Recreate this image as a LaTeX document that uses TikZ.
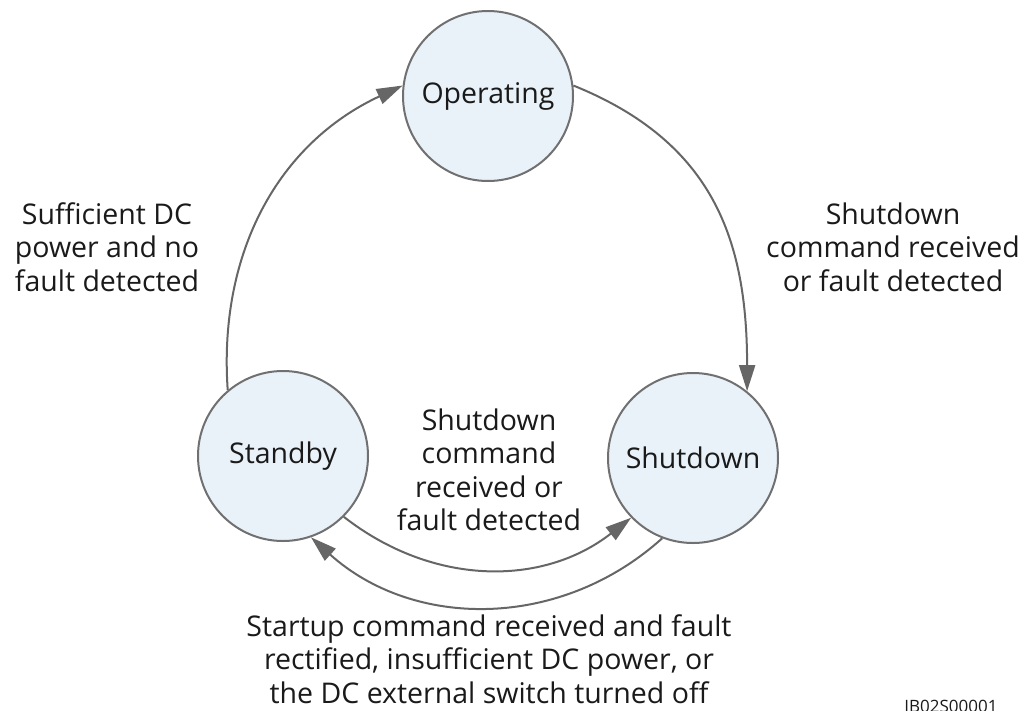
\documentclass[tikz,border=0pt]{standalone}
\usepackage{fontspec}
\setmainfont{Open Sans}
\usetikzlibrary{arrows.meta}
\definecolor{circfill}{HTML}{EAF2F9}
\definecolor{circline}{HTML}{707070}
\definecolor{arrline}{HTML}{666666}
\definecolor{txt}{HTML}{1A1A1A}
\begin{document}
\begin{tikzpicture}[x=1pt,y=-1pt,
  state/.style={circle,draw=circline,fill=circfill,line width=2pt,minimum size=170pt,inner sep=0pt,text=txt,font=\fontsize{28.5}{34}\selectfont},
  lbl/.style={align=center,text=txt,font=\fontsize{28.5}{33.5}\selectfont,inner sep=0pt},
  conn/.style={draw=arrline,line width=2pt,-{Triangle[length=26pt,width=16pt]}}]
\useasboundingbox (0,0) rectangle (1031,710);
\clip (0,0) rectangle (1031,710);
\node[state] (op) at (488,96) {Operating};
\node[state] (sb) at (283,456) {Standby};
\node[state] (sd) at (693,458) {Shutdown};
\draw[conn] (sb.130) to[out=94,in=205] (op.173);
\draw[conn] (op.7) to[out=-22,in=90,looseness=1.1] (sd.51);
\draw[conn] (sb.-45) to[out=-38,in=218] (sd.224);
\draw[conn] (sd.249) to[out=222,in=-42] (sb.289);
\node[lbl] (l1) at (107,247) {Sufficient DC\\power and no\\fault detected};
\node[lbl] (l2) at (893,247) {Shutdown\\command received\\or fault detected};
\node[lbl] (l3) at (489,470) {Shutdown\\command\\received or\\fault detected};
\node[lbl] (l4) at (489,659) {Startup command received and fault\\rectified, insufficient DC power, or\\the DC external switch turned off};
\node[text=txt,font=\fontsize{17}{19}\selectfont,inner sep=0pt,anchor=north] (id) at (951,700) {IB02S00001};
\end{tikzpicture}
\end{document}
